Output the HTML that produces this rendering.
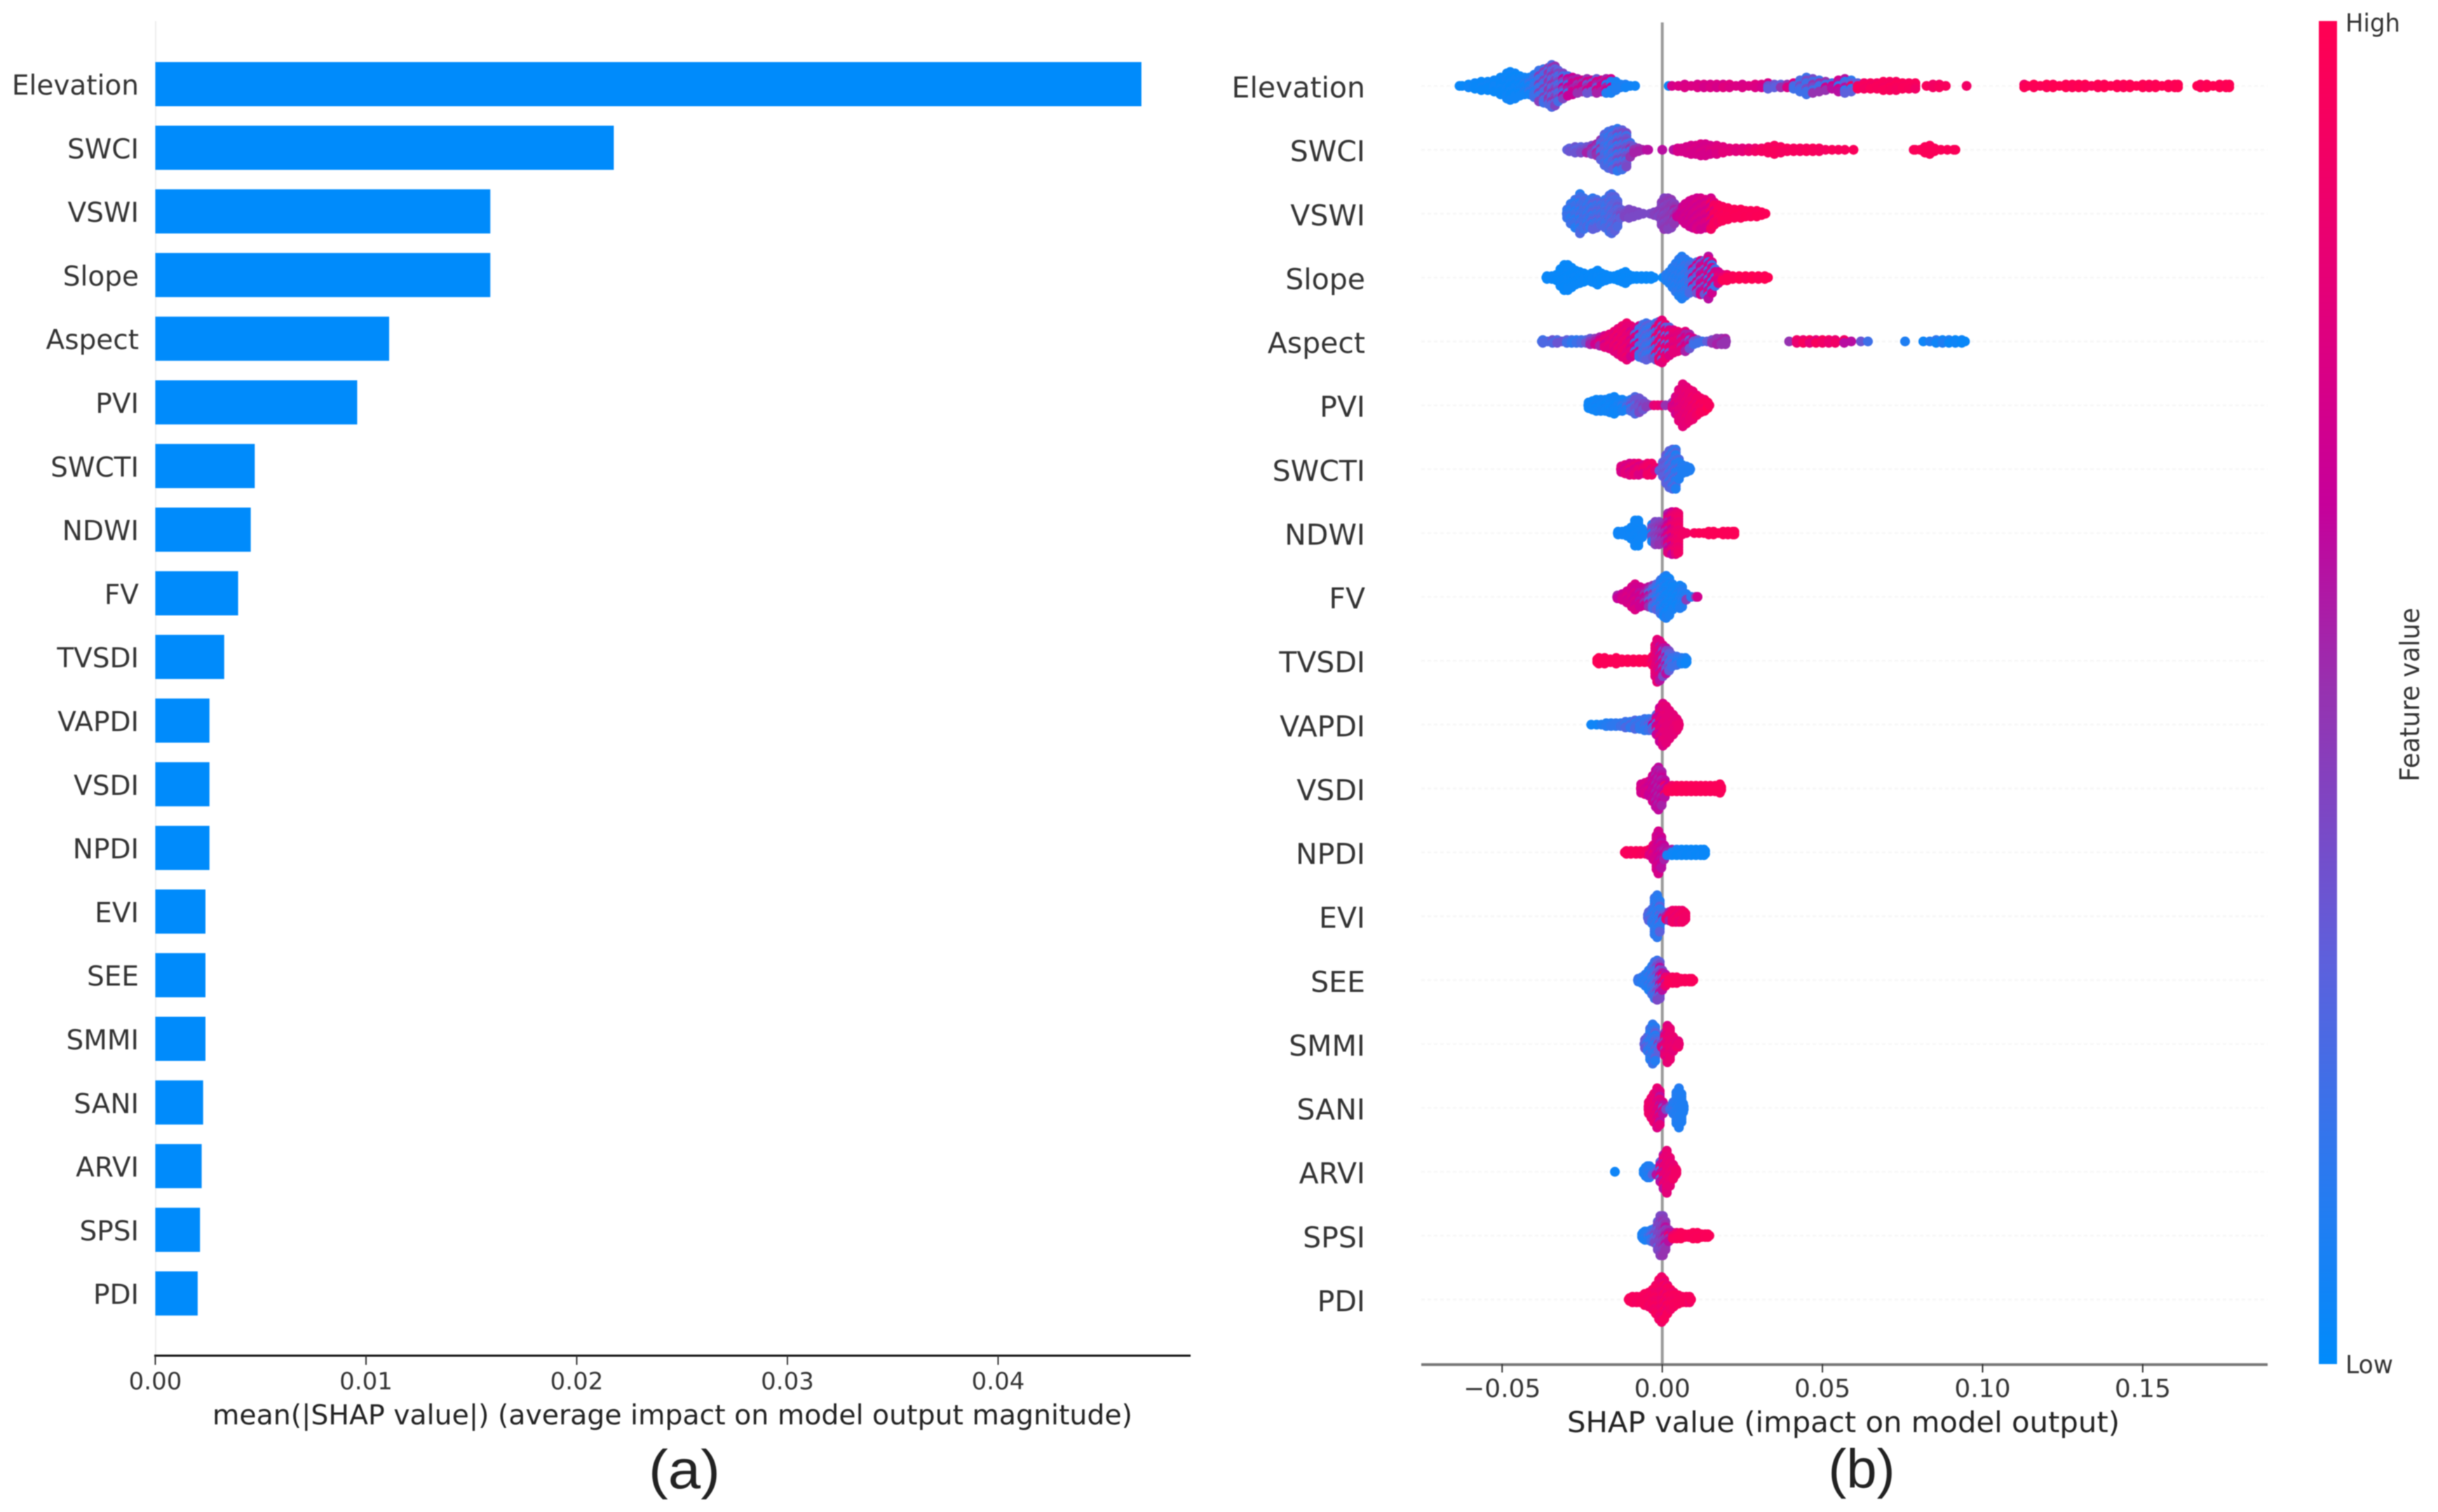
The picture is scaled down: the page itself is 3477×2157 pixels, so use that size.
<!DOCTYPE html>
<html lang="en">
<head>
<meta charset="utf-8">
<title>SHAP feature importance and summary plots</title>
<style>
html,body{margin:0;padding:0;background:#fff;width:3477px;height:2157px;overflow:hidden}
svg{display:block;filter:blur(0.8px)}
text{font-family:"DejaVu Sans","Liberation Sans",sans-serif}
</style>
</head>
<body>
<svg id="chart" xmlns="http://www.w3.org/2000/svg" width="3477" height="2157" viewBox="0 0 3477 2157">
  <rect x="0" y="0" width="3477" height="2157" fill="#ffffff"/>
  <defs>
    <linearGradient id="cmapGradient" x1="0" y1="1" x2="0" y2="0"></linearGradient>
  </defs>
  <g id="panelA"></g>
  <g id="panelB"></g>
  <text x="976" y="2123" text-anchor="middle" font-size="78" fill="#222" textLength="102" lengthAdjust="spacingAndGlyphs" style="font-family:'Liberation Sans',sans-serif">(a)</text>
  <text x="2655" y="2122" text-anchor="middle" font-size="78" fill="#222" style="font-family:'Liberation Sans',sans-serif">(b)</text>
</svg>
<script>
const featureNames=["Elevation","SWCI","VSWI","Slope","Aspect","PVI","SWCTI","NDWI","FV","TVSDI","VAPDI","VSDI","NPDI","EVI","SEE","SMMI","SANI","ARVI","SPSI","PDI"];
const meanAbsShap=[0.0468,0.02176,0.0159,0.0159,0.0111,0.00958,0.00472,0.00453,0.00393,0.00327,0.00257,0.00257,0.00257,0.00238,0.00238,0.00238,0.00227,0.0022,0.00212,0.00201];
const barTicks=[0,0.01,0.02,0.03,0.04];
const barTickLabels=["0.00","0.01","0.02","0.03","0.04"];
const swarmTicks=[-0.05,0,0.05,0.10,0.15];
const swarmTickLabels=["\u22120.05","0.00","0.05","0.10","0.15"];

const elevationShap=[-.0633,-.0625,-.0605,-.0585,-.0565,-.0545,-.0525,-.0505,-.0485,-.0475,-.046,-.0445,-.043,-.0415,-.04,-.0385,-.037,-.0355,-.0345,-.0335,-.0325,-.031,-.0295,-.028,-.0265,-.025,-.0235,-.022,-.0205,-.019,-.0175,-.016,-.0145,-.013,-.0115,-.01,-.0085,-.0085,.002,.003,.005,.007,.009,.011,.013,.015,.017,.019,.021,.023,.025,.027,.029,.031,.033,.035,.037,.039,.041,.043,.045,.047,.049,.051,.053,.055,.057,.059,.061,.063,.065,.067,.069,.071,.073,.075,.077,.079,.0825,.0845,.0865,.0885,.095,.113,.114,.116,.118,.12,.122,.124,.126,.128,.13,.132,.134,.136,.138,.14,.142,.144,.146,.148,.15,.152,.154,.156,.158,.16,.161,.167,.168,.17,.172,.174,.176,.177];
const elevationCount=[1,1,2,3,4,4,5,7,10,11,10,8,7,7,9,12,13,14,16,15,12,10,8,7,6,5,6,5,6,5,6,6,4,2,2,1,1,1,1,1,1,2,1,2,2,2,2,2,2,1,2,1,2,2,3,2,2,2,3,5,7,6,5,4,3,5,6,5,3,3,3,3,4,4,4,3,3,3,1,2,2,1,1,2,1,2,1,2,2,1,2,2,2,2,1,2,2,1,2,2,2,1,2,2,2,1,2,2,2,1,2,2,1,2,2,2,1];
const elevationFeature=[.03,.03,.05,.03,.03,.05,.03,.05,.03,.05,.03,.05,.06,.1,.18,.2,.45,.25,.5,.3,.42,.22,.65,.55,.7,.5,.7,.35,.72,.55,.7,.1,.08,.1,.06,.05,.05,.05,.72,.75,.72,.75,.72,.75,.72,.75,.72,.78,.75,.72,.75,.78,.75,.72,.35,.3,.5,.75,.25,.2,.4,.2,.5,.2,.7,.6,.15,.3,.9,.95,.92,.96,.95,.93,.97,.95,.96,.95,.9,.92,.95,.9,.9,.98,1,.98,1,.98,1,.98,1,.98,1,.97,1,.98,1,.98,1,.98,1,.98,1,.98,1,.98,1,.98,1,.97,.98,1,.98,1,.98,1];

const swciShap=[-.0297,-.029,-.0272,-.0254,-.0236,-.022,-.0205,-.0192,-.018,-.0168,-.0155,-.014,-.0125,-.0112,-.01,-.0088,-.0075,-.0062,-.0048,-.0044,0,.0035,.0048,.006,.0075,.009,.0105,.012,.0135,.015,.017,.019,.021,.023,.025,.027,.029,.031,.033,.035,.037,.039,.041,.043,.045,.047,.049,.051,.053,.055,.057,.0597,.0785,.079,.0805,.082,.0835,.085,.087,.089,.091,.0915];
const swciCount=[1,2,3,3,3,4,5,8,12,14,15,16,15,13,6,3,2,1,1,1,1,1,2,2,3,4,4,5,5,4,4,3,2,2,2,2,2,2,3,4,3,2,2,2,2,2,2,1,1,1,1,1,1,1,1,3,4,2,1,1,1,1];
const swciFeature=[.3,.35,.3,.35,.4,.55,.5,.3,.2,.25,.15,.3,.4,.2,.35,.5,.55,.6,.6,.6,.6,.7,.72,.72,.72,.72,.75,.72,.72,.75,.78,.78,.8,.78,.8,.85,.9,.92,.95,.93,.96,.93,.95,.93,.96,.95,.93,.96,.95,.95,.96,.95,.97,.97,.97,.97,.97,.97,.97,.97,.97,.97];

const vswiShap=[-.0298,-.0297,-.0286,-.0272,-.0257,-.0245,-.0235,-.0225,-.0217,-.0205,-.0191,-.0178,-.0165,-.0158,-.0148,-.014,-.013,-.0118,-.0104,-.009,-.0075,-.006,-.0038,-.0025,-.0012,-.0002,.0006,.0018,.0028,.0038,.0046,.0055,.0064,.0072,.0085,.0095,.0108,.012,.0135,.0152,.0162,.0175,.0188,.0205,.0225,.0245,.026,.0276,.0295,.031,.0322];
const vswiCount=[1,4,8,11,15,12,10,11,12,11,9,11,14,15,13,10,4,3,4,3,2,1,1,2,3,9,12,12,11,8,3,3,6,8,10,11,12,12,11,12,9,7,6,5,4,4,3,3,3,2,1];
const vswiFeature=[.18,.15,.2,.12,.2,.25,.2,.15,.22,.3,.18,.25,.2,.3,.25,.3,.35,.4,.42,.42,.4,.4,.42,.44,.46,.42,.45,.48,.44,.48,.55,.65,.68,.7,.72,.68,.72,.75,.7,.78,.92,.95,.96,.97,.97,.98,.97,.98,.97,.98,.97];

const slopeShap=[-.0362,-.036,-.0345,-.033,-.0318,-.0306,-.0295,-.0283,-.0271,-.0258,-.0245,-.0232,-.022,-.0208,-.0202,-.019,-.0177,-.0164,-.015,-.0137,-.0125,-.0115,-.0105,-.0092,-.008,-.0065,-.005,-.0035,-.0026,.0002,.0012,.0022,.0032,.0042,.0052,.0061,.0072,.0085,.0095,.0108,.012,.0132,.0144,.0155,.0165,.0175,.0188,.0202,.022,.024,.026,.028,.03,.032,.033];
const slopeCount=[1,2,2,3,7,10,10,8,6,5,4,3,4,5,6,4,3,2,2,3,4,5,3,2,2,2,2,2,1,1,3,5,8,11,14,16,14,12,11,12,13,13,16,12,7,5,3,3,2,2,2,2,2,2,1];
const slopeFeature=[.03,.03,.03,.03,.02,.03,.02,.03,.02,.03,.02,.03,.02,.03,.02,.03,.02,.03,.02,.03,.02,.03,.02,.03,.02,.03,.02,.03,.02,.15,.12,.1,.12,.15,.1,.15,.12,.2,.25,.7,.35,.6,.75,.2,.7,.75,.85,.98,.98,1,.98,1,.98,1,.98];

const aspectShap=[-.0376,-.0373,-.0358,-.0343,-.0328,-.0313,-.0298,-.0283,-.0268,-.0253,-.0238,-.0225,-.021,-.0195,-.018,-.0165,-.015,-.0138,-.0125,-.0111,-.0098,-.0085,-.0072,-.006,-.005,-.004,-.003,-.002,-.001,-.0001,.001,.0022,.0035,.0048,.006,.0072,.0085,.0098,.011,.0125,.014,.0155,.017,.0185,.0197,.0199,.0396,.042,.044,.046,.048,.05,.052,.054,.0568,.059,.062,.0642,.0758,.0815,.0835,.0855,.0875,.0895,.0915,.0935,.0945];
const aspectCount=[1,2,1,2,2,1,2,2,2,2,2,3,3,4,5,6,8,10,12,14,12,10,12,13,14,13,12,14,15,16,13,11,9,8,7,8,6,3,2,1,1,2,3,3,3,1,1,2,2,2,2,2,2,2,2,1,1,1,1,1,1,2,2,2,2,2,1];
const aspectFeature=[.2,.25,.35,.25,.35,.3,.2,.15,.2,.25,.35,.45,.55,.7,.8,.85,.78,.85,.88,.82,.8,.7,.25,.18,.3,.2,.15,.35,.8,.85,.3,.75,.85,.8,.78,.55,.7,.35,.2,.3,.4,.5,.5,.55,.5,.5,.9,.85,.95,.8,.95,.9,.85,.9,.6,.35,.2,.1,.05,.1,.15,.05,.1,.03,.05,.03,.03];

const pviShap=[-.0231,-.023,-.0218,-.0206,-.0192,-.0178,-.0164,-.015,-.0138,-.0125,-.0111,-.0098,-.0085,-.0072,-.006,-.005,-.0038,-.0026,-.0014,-.0002,.001,.0022,.0032,.0042,.0052,.0064,.0075,.0085,.0095,.0108,.012,.0132,.0142,.0147];
const pviCount=[1,3,4,5,5,5,6,7,5,5,4,5,7,6,4,2,1,1,1,1,1,1,3,7,12,16,14,12,11,8,6,5,3,1];
const pviFeature=[.05,.05,.04,.05,.06,.05,.04,.06,.05,.08,.15,.25,.35,.35,.4,.45,.8,.85,.8,.5,.5,.45,.7,.75,.8,.8,.82,.85,.85,.9,.9,.95,.95,1];

const swctiShap=[-.0129,-.0128,-.0116,-.0102,-.0088,-.0074,-.006,-.0046,-.0033,-.0022,-.0009,.0002,.0012,.0022,.0032,.0042,.0052,.0062,.0075,.0085,.0087];
const swctiCount=[1,3,4,5,5,5,4,5,5,2,2,6,11,14,15,15,8,4,3,2,1];
const swctiFeature=[.75,.8,.72,.78,.85,.75,.85,.9,.9,.8,.3,.35,.3,.28,.15,.25,.1,.12,.1,.1,.08];

const ndwiShap=[-.0139,-.0138,-.0125,-.011,-.0097,-.0085,-.0075,-.0063,-.005,-.0032,-.0022,-.001,-.0001,.001,.0018,.003,.0042,.005,.0062,.0075,.01,.0115,.013,.0145,.016,.0175,.019,.0205,.022,.0225];
const ndwiCount=[1,2,2,3,5,10,10,4,1,7,9,9,8,8,15,16,16,15,2,1,1,1,1,2,2,1,2,2,2,2];
const ndwiFeature=[.05,.05,.05,.05,.05,.04,.05,.05,.06,.42,.4,.45,.5,.55,.65,.78,.85,.88,.9,.95,.97,.97,.98,.97,.98,.97,.98,.97,.98,.98];

const fvShap=[-.0141,-.014,-.0125,-.011,-.0095,-.0085,-.007,-.0055,-.0042,-.003,-.0018,-.0005,.0005,.0012,.0022,.0032,.0045,.0055,.0062,.0075,.009,.0105,.011];
const fvCount=[1,2,3,5,8,10,8,7,8,9,10,13,15,16,14,10,7,9,8,3,1,1,1];
const fvFeature=[.55,.65,.7,.72,.75,.7,.68,.6,.5,.3,.2,.12,.1,.05,.08,.05,.05,.08,.1,.12,.45,.7,.85];

const tvsdiShap=[-.0203,-.0198,-.018,-.0162,-.0144,-.0126,-.0108,-.009,-.0072,-.0055,-.004,-.003,-.0022,-.0016,-.0008,.0002,.0012,.0021,.003,.0045,.006,.0072,.0076];
const tvsdiCount=[2,3,3,2,3,2,2,2,2,2,2,4,12,16,15,12,10,8,5,4,3,3,2];
const tvsdiFeature=[.98,.97,.98,.97,.98,.97,.98,.97,.98,.97,.95,.9,.82,.78,.75,.6,.4,.3,.2,.15,.1,.08,.05];

const vapdiShap=[-.0222,-.0205,-.019,-.0175,-.016,-.0145,-.013,-.0115,-.01,-.0085,-.007,-.0055,-.0042,-.003,-.0018,-.0008,.0002,.0012,.0022,.0034,.0045,.005,.0052];
const vapdiCount=[1,1,1,2,2,2,2,3,3,4,4,5,5,5,8,13,16,14,11,8,5,3,1];
const vapdiFeature=[.05,.1,.1,.12,.15,.15,.2,.15,.25,.15,.2,.15,.2,.3,.65,.75,.82,.8,.8,.8,.82,.85,.85];

const vsdiShap=[-.0067,-.0066,-.0054,-.0042,-.003,-.002,-.0012,-.0002,.0008,.0018,.003,.0045,.006,.0075,.009,.0105,.012,.0135,.015,.0165,.018,.0184];
const vsdiCount=[1,4,5,6,10,14,16,13,7,3,3,3,3,3,3,3,3,3,3,3,4,2];
const vsdiFeature=[.7,.72,.75,.7,.65,.62,.55,.6,.65,.9,.95,.96,.97,.96,.97,.96,.97,.96,.97,.96,.97,.97];

const npdiShap=[-.0117,-.0112,-.0098,-.0082,-.0068,-.0052,-.004,-.0028,-.0018,-.0012,-.0003,.0006,.0015,.003,.0045,.006,.0075,.009,.0105,.012,.013,.0134];
const npdiCount=[1,2,2,2,2,2,3,6,13,16,12,6,3,3,3,3,3,3,3,3,3,2];
const npdiFeature=[.95,.96,.95,.96,.95,.93,.85,.75,.72,.7,.65,.6,.55,.08,.04,.03,.04,.03,.04,.03,.04,.03];

const eviShap=[-.0045,-.0042,-.0032,-.0024,-.0016,-.0008,.0002,.0012,.0022,.0032,.0042,.0052,.0062,.0068,.0072];
const eviCount=[2,4,6,14,16,12,4,3,4,5,5,5,5,4,3];
const eviFeature=[.3,.25,.2,.15,.12,.15,.3,.55,.85,.88,.9,.85,.9,.92,.9];

const seeShap=[-.0076,-.0075,-.0064,-.0053,-.0042,-.0032,-.0024,-.0016,-.0008,0,.001,.002,.0032,.0045,.0058,.0071,.0085,.0092,.0097];
const seeCount=[1,2,3,5,8,11,14,15,14,8,5,3,3,3,2,2,2,2,1];
const seeFeature=[.2,.15,.15,.12,.1,.2,.18,.3,.4,.6,.85,.95,.95,.96,.95,.96,.95,.96,.95];

const smmiShap=[-.0056,-.0054,-.0046,-.0038,-.003,-.0022,-.0012,-.0002,.0008,.0016,.0024,.0034,.0044,.005,.0052];
const smmiCount=[1,4,6,12,15,13,5,3,9,14,12,6,3,3,1];
const smmiFeature=[.35,.3,.25,.15,.12,.18,.3,.45,.75,.82,.85,.85,.8,.85,.9];

const saniShap=[-.0043,-.0042,-.0034,-.0026,-.0016,-.0008,.0002,.0012,.0024,.0034,.0044,.0052,.006,.0065,.0067];
const saniCount=[2,5,8,11,15,13,5,2,2,5,12,15,11,4,2];
const saniFeature=[.85,.88,.85,.85,.8,.75,.6,.4,.2,.12,.12,.1,.1,.1,.1];

const arviShap=[-.0148,-.0058,-.0052,-.0046,-.004,-.003,-.0018,-.0006,.0004,.0014,.0024,.0034,.0042,.0044];
const arviCount=[1,2,4,5,5,3,3,8,13,16,11,6,3,2];
const arviFeature=[.05,.08,.1,.1,.12,.15,.3,.6,.8,.85,.82,.85,.9,.9];

const spsiShap=[-.0063,-.006,-.0054,-.0044,-.0034,-.0024,-.0014,-.0006,.0002,.001,.002,.0033,.0045,.0058,.007,.0083,.0096,.011,.0122,.0134,.0142,.0147];
const spsiCount=[2,3,4,4,5,6,11,15,15,11,5,3,3,3,2,2,3,3,2,2,2,1];
const spsiFeature=[.08,.08,.1,.12,.2,.3,.4,.42,.45,.5,.6,.85,.95,.96,.97,.96,.97,.96,.97,.96,.97,.97];

const pdiShap=[-.0105,-.0102,-.0093,-.008,-.0068,-.0055,-.0042,-.003,-.002,-.001,-.0002,.0006,.0016,.0026,.0036,.005,.0062,.0075,.0085,.009];
const pdiCount=[1,2,3,3,3,5,6,8,11,15,17,15,11,8,6,4,3,3,3,1];
const pdiFeature=[.95,.95,.94,.95,.93,.95,.93,.9,.95,.88,.9,.85,.95,.9,.95,.93,.95,.94,.95,.9];

const swarmShap=[elevationShap,swciShap,vswiShap,slopeShap,aspectShap,pviShap,swctiShap,ndwiShap,fvShap,tvsdiShap,vapdiShap,vsdiShap,npdiShap,eviShap,seeShap,smmiShap,saniShap,arviShap,spsiShap,pdiShap];
const swarmCount=[elevationCount,swciCount,vswiCount,slopeCount,aspectCount,pviCount,swctiCount,ndwiCount,fvCount,tvsdiCount,vapdiCount,vsdiCount,npdiCount,eviCount,seeCount,smmiCount,saniCount,arviCount,spsiCount,pdiCount];
const swarmFeature=[elevationFeature,swciFeature,vswiFeature,slopeFeature,aspectFeature,pviFeature,swctiFeature,ndwiFeature,fvFeature,tvsdiFeature,vapdiFeature,vsdiFeature,npdiFeature,eviFeature,seeFeature,smmiFeature,saniFeature,arviFeature,spsiFeature,pdiFeature];

const NS="http://www.w3.org/2000/svg";
function make(parent,tag,attrs,txt){
  const e=document.createElementNS(NS,tag);
  for(const k in attrs){e.setAttribute(k,attrs[k]);}
  if(txt!==undefined){e.textContent=txt;}
  parent.appendChild(e);
  return e;
}

/* colour map: blue -> purple -> magenta -> red */
const cmap=[[0,0,139,251],[.15,45,120,238],[.3,93,96,220],[.5,150,50,176],[.64,198,0,154],[.8,228,0,120],[1,255,0,82]];
function colorOf(f){
  f=Math.max(0,Math.min(1,f));
  for(let i=1;i<cmap.length;i++){
    if(f<=cmap[i][0]){
      const a=cmap[i-1],b=cmap[i],t=(f-a[0])/(b[0]-a[0]);
      return "rgb("+Math.round(a[1]+(b[1]-a[1])*t)+","+Math.round(a[2]+(b[2]-a[2])*t)+","+Math.round(a[3]+(b[3]-a[3])*t)+")";
    }
  }
  return "rgb(255,0,82)";
}
const grad=document.getElementById("cmapGradient");
cmap.forEach(function(s){
  make(grad,"stop",{"offset":s[0],"stop-color":colorOf(s[0])});
});

/* ---------- panel (a): bars ---------- */
const panelA=document.getElementById("panelA");
const barX=function(v){return 221.5+v*30050;};
const barY=function(i){return 120+90.8*i;};
const leftSpine=make(panelA,"line",{x1:222,y1:30,x2:222,y2:1934,stroke:"#eeeeee","stroke-width":2});


featureNames.forEach(function(name,i){
  const bar=make(panelA,"rect",{x:barX(0),y:barY(i)-31.5,width:barX(meanAbsShap[i])-barX(0),height:63,fill:"#008bfb"});
  
  
  const lab=make(panelA,"text",{x:198,y:barY(i)+15,"text-anchor":"end","font-size":39,fill:"#333"},name);
  
  
});
const barAxis=make(panelA,"line",{x1:220,y1:1934,x2:1698,y2:1934,stroke:"#111","stroke-width":3});


barTicks.forEach(function(t,i){
  const tick=make(panelA,"line",{x1:barX(t),y1:1934,x2:barX(t),y2:1947,stroke:"#333","stroke-width":2});
  
  
  const lab=make(panelA,"text",{x:barX(t),y:1982,"text-anchor":"middle","font-size":34,fill:"#333"},barTickLabels[i]);
  
  
});
const barTitle=make(panelA,"text",{x:303,y:2032,"font-size":39,fill:"#222",textLength:1312,lengthAdjust:"spacingAndGlyphs"},"mean(|SHAP value|) (average impact on model output magnitude)");



/* ---------- panel (b): beeswarm ---------- */
const panelB=document.getElementById("panelB");
const swarmX=function(v){return 2370.7+v*4568;};
const swarmY=function(i){return 122.6+91.12*i;};
featureNames.forEach(function(name,i){
  const guide=make(panelB,"line",{x1:2027,y1:swarmY(i),x2:3234,y2:swarmY(i),stroke:"#f8f8f8","stroke-width":3,"stroke-dasharray":"5 4"});
  
  
});
const zeroLine=make(panelB,"line",{x1:2370.7,y1:32,x2:2370.7,y2:1946,stroke:"#999","stroke-width":4});


const DOT_R=7,DOT_STEP=4;
featureNames.forEach(function(name,i){
  const lab=make(panelB,"text",{x:1947,y:swarmY(i)+16.5,"text-anchor":"end","font-size":41,fill:"#333"},name);
  
  
  const g=make(panelB,"g",{});
  
  
  const sv=swarmShap[i],cv=swarmCount[i],fv=swarmFeature[i];
  sv.forEach(function(v,j){
    const n=cv[j];
    for(let k=0;k<n;k++){
      /* dots in a column borrow the feature value of the neighbouring columns so colours mingle */
      const nb=Math.max(0,Math.min(fv.length-1,j+(k%3)-1));
      const dot=make(g,"circle",{cx:swarmX(v),cy:swarmY(i)+(k-(n-1)/2)*DOT_STEP,r:DOT_R,fill:colorOf(fv[nb])});
      
      
    }
  });
});
const swarmAxis=make(panelB,"line",{x1:2027,y1:1946.7,x2:3234,y2:1946.7,stroke:"#777","stroke-width":4});


swarmTicks.forEach(function(t,i){
  const tick=make(panelB,"line",{x1:swarmX(t),y1:1946,x2:swarmX(t),y2:1958,stroke:"#333","stroke-width":2});
  
  
  const lab=make(panelB,"text",{x:swarmX(t),y:1993,"text-anchor":"middle","font-size":36,fill:"#333"},swarmTickLabels[i]);
  
  
});
const swarmTitle=make(panelB,"text",{x:2235,y:2043,"font-size":41,fill:"#222",textLength:788,lengthAdjust:"spacingAndGlyphs"},"SHAP value (impact on model output)");



/* colour bar */
const bar=make(panelB,"rect",{x:3307,y:30,width:26,height:1916,fill:"url(#cmapGradient)"});


const hi=make(panelB,"text",{x:3345,y:45,"font-size":36,fill:"#333",textLength:78,lengthAdjust:"spacingAndGlyphs"},"High");


const lo=make(panelB,"text",{x:3345,y:1959,"font-size":36,fill:"#333",textLength:68,lengthAdjust:"spacingAndGlyphs"},"Low");


const fl=make(panelB,"text",{x:0,y:0,"font-size":38,fill:"#333","text-anchor":"middle",textLength:248,lengthAdjust:"spacingAndGlyphs",transform:"translate(3450 991) rotate(-90)"},"Feature value");


</script>
</body>
</html>
